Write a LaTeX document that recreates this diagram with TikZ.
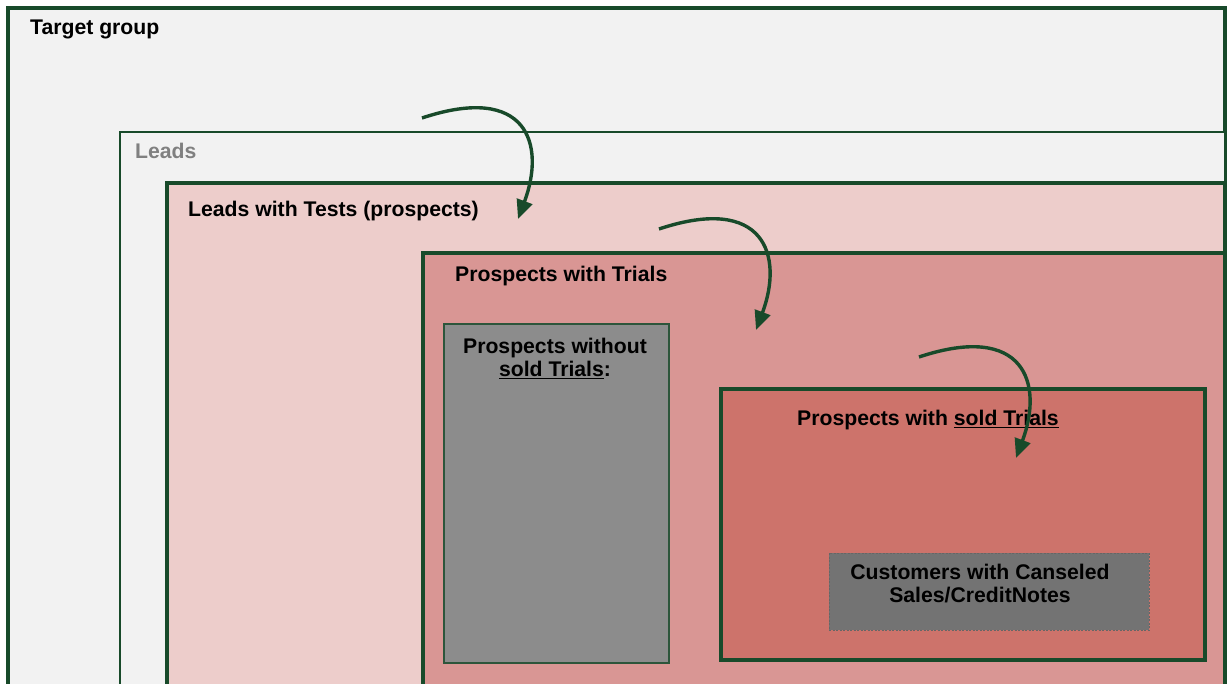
\documentclass[tikz,border=0pt]{standalone}
\usepackage{fontspec}
\setmainfont{Liberation Sans}
\usetikzlibrary{arrows.meta}
\definecolor{frame}{RGB}{24,74,42}
\definecolor{paper}{RGB}{242,242,242}
\definecolor{rosel}{RGB}{237,205,203}
\definecolor{rosem}{RGB}{217,150,148}
\definecolor{rosed}{RGB}{205,115,107}
\definecolor{greym}{RGB}{140,140,140}
\definecolor{greyd}{RGB}{115,115,115}
\definecolor{leadtxt}{RGB}{128,128,128}
\begin{document}
\begin{tikzpicture}[x=1pt,y=-1pt,
  boxthick/.style={draw=frame,line width=3.4pt},
  boxthin/.style={draw=frame,line width=1.4pt},
  lbl/.style={anchor=base west,inner sep=0pt,font=\fontsize{21.2}{23}\selectfont\bfseries},
  lblc/.style={anchor=north,inner sep=0pt,align=center,font=\fontsize{21.2}{23}\selectfont\bfseries},
  flow/.style={draw=frame,line width=3.4pt,-{Triangle[length=19pt,width=16pt]}}]
\useasboundingbox (0,0) rectangle (1227,684);
\clip (0,0) rectangle (1227,684);
\fill[white] (0,0) rectangle (1227,684);

% nested populations
\filldraw[fill=paper, boxthick] (8,8) rectangle (1225,720);
\filldraw[fill=paper, boxthin] (120,132) rectangle (1225,720);
\filldraw[fill=rosel, boxthick] (167,183) rectangle (1225,720);
\filldraw[fill=rosem, boxthick] (423,253) rectangle (1225,720);
\filldraw[fill=greym, draw=frame!80!gray, line width=1.4pt] (444,324) rectangle (669,663);
\filldraw[fill=rosed, boxthick] (721,389) rectangle (1205,660);
\filldraw[fill=greyd, draw=black!60, line width=1pt, dash pattern=on 2pt off 1.5pt] (829,553) rectangle (1149,630);

% labels
\node[lbl] (target) at (30,35) {Target group};
\node[lbl, text=leadtxt] (leads) at (135,159) {Leads};
\node[lbl] (tests) at (188,217) {Leads with Tests (prospects)};
\node[lbl] (trials) at (455,282) {Prospects with Trials};
\node[lblc] (unsold) at (555,338) {Prospects without\\\underline{sold Trials}:};
\node[lbl] (sold) at (797,426) {Prospects with \underline{sold Trials}};
\node[lblc] (cancel) at (980,564) {Customers with Canseled\\Sales/CreditNotes};

% transitions between stages
\coordinate (a1s) at (422,118);
\coordinate (a1e) at (518,219);
\coordinate (a2s) at (659,229);
\coordinate (a2e) at (756,330);
\coordinate (a3s) at (919,357);
\coordinate (a3e) at (1016,458);
\draw[flow] (a1s) .. controls +(105,-35) and +(28,-75) .. (a1e);
\draw[flow] (a2s) .. controls +(105,-35) and +(28,-75) .. (a2e);
\draw[flow] (a3s) .. controls +(105,-35) and +(28,-75) .. (a3e);
\end{tikzpicture}
\end{document}
